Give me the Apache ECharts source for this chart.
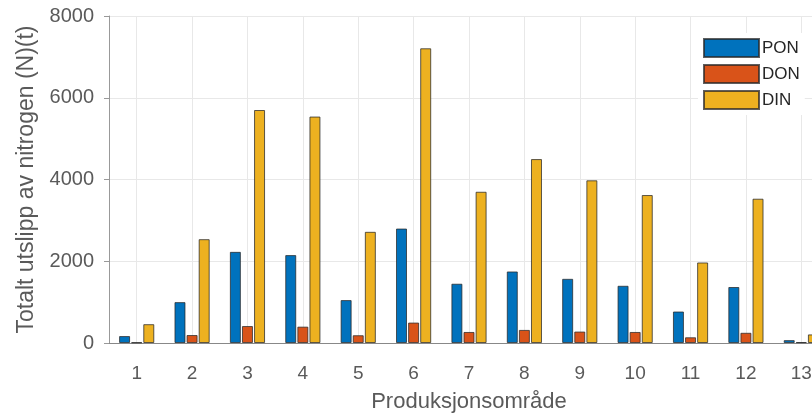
<!DOCTYPE html>
<html>
<head>
<meta charset="utf-8">
<script src="https://cdn.jsdelivr.net/npm/echarts@6/dist/echarts.min.js"></script>
<style>
  html, body { margin: 0; padding: 0; background: #fff; }
  #chart { width: 812px; height: 416px; }
</style>
</head>
<body>
<div id="chart"></div>
<script>
// Produksjonsområde 1..13
const areas = ['1', '2', '3', '4', '5', '6', '7', '8', '9', '10', '11', '12', '13'];
const pon = [170, 1000, 2230, 2150, 1050, 2800, 1450, 1750, 1570, 1400, 770, 1370, 70];
const don = [15, 195, 415, 400, 190, 500, 270, 320, 280, 270, 140, 250, 20];
const din = [460, 2540, 5700, 5540, 2720, 7210, 3700, 4500, 3980, 3620, 1970, 3530, 210];
const yTicks = [0, 2000, 4000, 6000, 8000];

const colors = { PON: '#0072BD', DON: '#D95319', DIN: '#EDB120' };
const textColor = '#5a5a5a';

function barSeries(name, values) {
  return {
    name: name,
    type: 'bar',
    data: values,
    barWidth: 11,
    barGap: '10%',
    itemStyle: {
      color: colors[name],
      borderColor: 'rgba(40,40,40,0.75)',
      borderWidth: 1
    },
    z: 3
  };
}

const chart = echarts.init(document.getElementById('chart'));
chart.setOption({
  animation: false,
  grid: { left: 109, right: -17, top: 16, bottom: 73, containLabel: false, outerBoundsMode: 'none' },
  legend: {
    data: ['PON', 'DON', 'DIN'],
    orient: 'vertical',
    left: 698,
    top: 33,
    icon: 'rect',
    itemWidth: 55,
    itemHeight: 18,
    itemGap: 6,
    padding: 5,
    backgroundColor: '#fff',
    textStyle: { fontFamily: 'Liberation Sans', fontSize: 17, color: '#262626', padding: [0, 0, 0, -2] }
  },
  xAxis: {
    type: 'category',
    data: areas,
    name: 'Produksjonsområde',
    nameLocation: 'middle',
    nameGap: 48,
    nameTextStyle: { fontFamily: 'Liberation Sans', fontSize: 22, color: textColor },
    axisLine: { lineStyle: { color: '#888', width: 1 } },
    axisTick: { show: false },
    axisLabel: { fontFamily: 'Liberation Sans', fontSize: 19, color: textColor, margin: 21 },
    splitLine: { show: true, alignWithLabel: true, lineStyle: { color: '#e8e8e8' } }
  },
  yAxis: {
    type: 'value',
    min: yTicks[0],
    max: yTicks[yTicks.length - 1],
    interval: yTicks[1] - yTicks[0],
    name: 'Totalt utslipp av nitrogen (N)(t)',
    nameLocation: 'middle',
    nameGap: 70,
    nameTextStyle: { fontFamily: 'Liberation Sans', fontSize: 23, color: textColor },
    axisLine: { show: true, lineStyle: { color: '#999', width: 1 } },
    axisTick: { show: true, length: 5, lineStyle: { color: '#999' } },
    axisLabel: {
      fontFamily: 'Liberation Sans', fontSize: 20, color: textColor, margin: 15,
      formatter: (v) => String(v)
    },
    splitLine: { show: true, lineStyle: { color: '#e8e8e8' } }
  },
  series: [barSeries('PON', pon), barSeries('DON', don), barSeries('DIN', din)]
});
</script>
</body>
</html>
